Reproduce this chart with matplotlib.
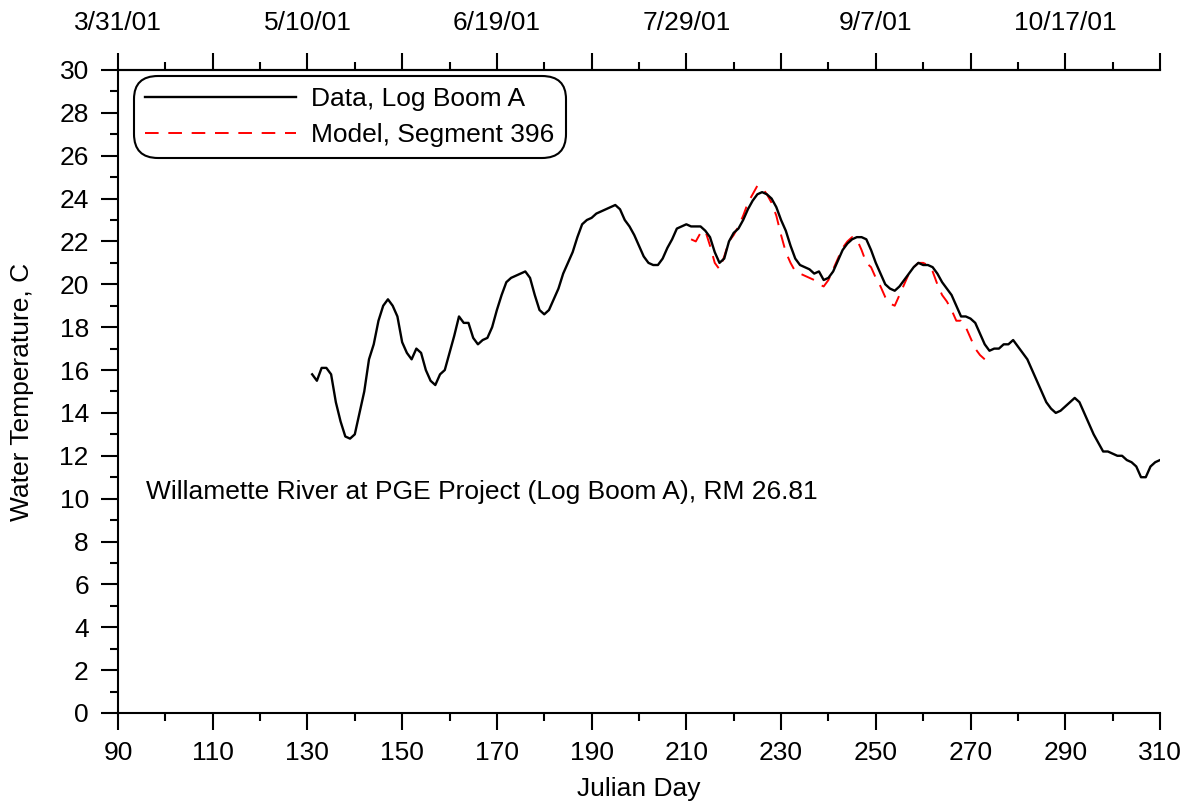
import numpy as np
import matplotlib
matplotlib.use("Agg")
import matplotlib.pyplot as plt

plt.rcParams['font.family'] = ['Liberation Sans', 'DejaVu Sans']

# Datos (temperatura diaria, C)
dias_dato = np.arange(131, 311)
temp_dato = [
    15.8, 15.5, 16.1, 16.1, 15.8, 14.5, 13.6, 12.9, 12.8, 13.0,   # 131-140
    14.0, 15.0, 16.5, 17.2, 18.3, 19.0, 19.3, 19.0, 18.5, 17.3,   # 141-150
    16.8, 16.5, 17.0, 16.8, 16.0, 15.5, 15.3, 15.8, 16.0, 16.8,   # 151-160
    17.6, 18.5, 18.2, 18.2, 17.5, 17.2, 17.4, 17.5, 18.0, 18.8,   # 161-170
    19.5, 20.1, 20.3, 20.4, 20.5, 20.6, 20.3, 19.5, 18.8, 18.6,   # 171-180
    18.8, 19.3, 19.8, 20.5, 21.0, 21.5, 22.2, 22.8, 23.0, 23.1,   # 181-190
    23.3, 23.4, 23.5, 23.6, 23.7, 23.5, 23.0, 22.7, 22.3, 21.8,   # 191-200
    21.3, 21.0, 20.9, 20.9, 21.2, 21.7, 22.1, 22.6, 22.7, 22.8,   # 201-210
    22.7, 22.7, 22.7, 22.5, 22.2, 21.5, 21.0, 21.2, 22.0, 22.4,   # 211-220
    22.6, 23.0, 23.5, 23.9, 24.2, 24.3, 24.2, 24.0, 23.6, 23.0,   # 221-230
    22.5, 21.8, 21.2, 20.9, 20.8, 20.7, 20.5, 20.6, 20.2, 20.3,   # 231-240
    20.6, 21.1, 21.6, 21.9, 22.1, 22.2, 22.2, 22.1, 21.6, 21.0,   # 241-250
    20.5, 20.0, 19.8, 19.7, 19.9, 20.2, 20.5, 20.8, 21.0, 20.9,   # 251-260
    20.9, 20.8, 20.5, 20.1, 19.8, 19.5, 19.0, 18.5, 18.5, 18.4,   # 261-270
    18.2, 17.7, 17.2, 16.9, 17.0, 17.0, 17.2, 17.2, 17.4, 17.1,   # 271-280
    16.8, 16.5, 16.0, 15.5, 15.0, 14.5, 14.2, 14.0, 14.1, 14.3,   # 281-290
    14.5, 14.7, 14.5, 14.0, 13.5, 13.0, 12.6, 12.2, 12.2, 12.1,   # 291-300
    12.0, 12.0, 11.8, 11.7, 11.5, 11.0, 11.0, 11.5, 11.7, 11.8,   # 301-310
]

dias_modelo = np.arange(211, 274)
temp_modelo = [
    22.1, 22.0, 22.4, 22.5, 21.8, 21.0, 20.7, 21.3, 22.0, 22.3,   # 211-220
    22.7, 23.2, 23.8, 24.2, 24.6, 24.5, 24.2, 23.8, 23.2, 22.3,   # 221-230
    21.5, 21.0, 20.6, 20.5, 20.4, 20.3, 20.2, 20.0, 19.9, 20.2,   # 231-240
    20.7, 21.2, 21.7, 22.0, 22.2, 22.1, 21.6, 21.0, 20.8, 20.3,   # 241-250
    19.9, 19.4, 19.1, 19.0, 19.5, 20.0, 20.5, 20.8, 21.0, 21.0,   # 251-260
    20.9, 20.6, 20.0, 19.5, 19.2, 18.8, 18.3, 18.3, 18.0, 17.5,   # 261-270
    17.0, 16.7, 16.5,                                             # 271-273
]

datas_topo = ['3/31/01', '5/10/01', '6/19/01', '7/29/01', '9/7/01', '10/17/01']

fig = plt.figure(figsize=(11.94, 8.06), dpi=100)
ax = fig.add_axes([0.0988, 0.1154, 0.8727, 0.7978])

ax.plot(dias_modelo, temp_modelo, color='red', lw=1.4, dashes=(7, 5),
        label='Model, Segment 396', zorder=2)
ax.plot(dias_dato, temp_dato, color='black', lw=1.7,
        label='Data, Log Boom A', zorder=3)

ax.set_xlim(90, 310)
ax.set_ylim(0, 30)
ax.set_xticks(np.arange(90, 311, 20))
ax.set_xticks(np.arange(100, 310, 20), minor=True)
ax.set_yticks(np.arange(0, 31, 2))
ax.set_yticks(np.arange(1, 30, 2), minor=True)

fs = 19
ax.tick_params(which='major', direction='out', length=12, width=1.5, labelsize=fs, pad=8)
ax.tick_params(which='minor', direction='out', length=6, width=1.5)
ax.tick_params(axis='y', which='major', pad=9)
ax.spines['right'].set_visible(False)
for s in ['left', 'bottom', 'top']:
    ax.spines[s].set_linewidth(1.5)

ax.set_xlabel('Julian Day', fontsize=fs, labelpad=9)
ax.set_ylabel('Water Temperature, C', fontsize=fs, labelpad=18)

# eixo de cima com as datas
ax2 = ax.twiny()
ax2.set_xlim(ax.get_xlim())
ax2.set_xticks(np.arange(90, 311, 20))
ax2.set_xticks(np.arange(100, 310, 20), minor=True)
rotulos = []
for i, d in enumerate(np.arange(90, 311, 20)):
    rotulos.append(datas_topo[i // 2] if i % 2 == 0 and i // 2 < len(datas_topo) else '')
ax2.set_xticklabels(rotulos)
ax2.tick_params(which='major', direction='out', length=12, width=1.5, labelsize=fs, pad=13)
ax2.tick_params(which='minor', direction='out', length=6, width=1.5)
for s in ['left', 'right', 'bottom']:
    ax2.spines[s].set_visible(False)
ax2.spines['top'].set_linewidth(1.5)

ax.text(96, 10.3, 'Willamette River at PGE Project (Log Boom A), RM 26.81',
        fontsize=fs, va='center', ha='left')

h, l = ax.get_legend_handles_labels()
leg = ax.legend(h[::-1], l[::-1], loc='upper left', bbox_to_anchor=(0.019, 0.985),
                fontsize=fs, handlelength=5.7, handletextpad=0.6, borderpad=0.28,
                labelspacing=0.45, frameon=True, fancybox=True, borderaxespad=0)
fr = leg.get_frame()
fr.set_edgecolor('black')
fr.set_linewidth(1.5)
fr.set_alpha(1)
fr.set_boxstyle('round,pad=0.15,rounding_size=0.9')

fig.savefig('out.png', dpi=100)
